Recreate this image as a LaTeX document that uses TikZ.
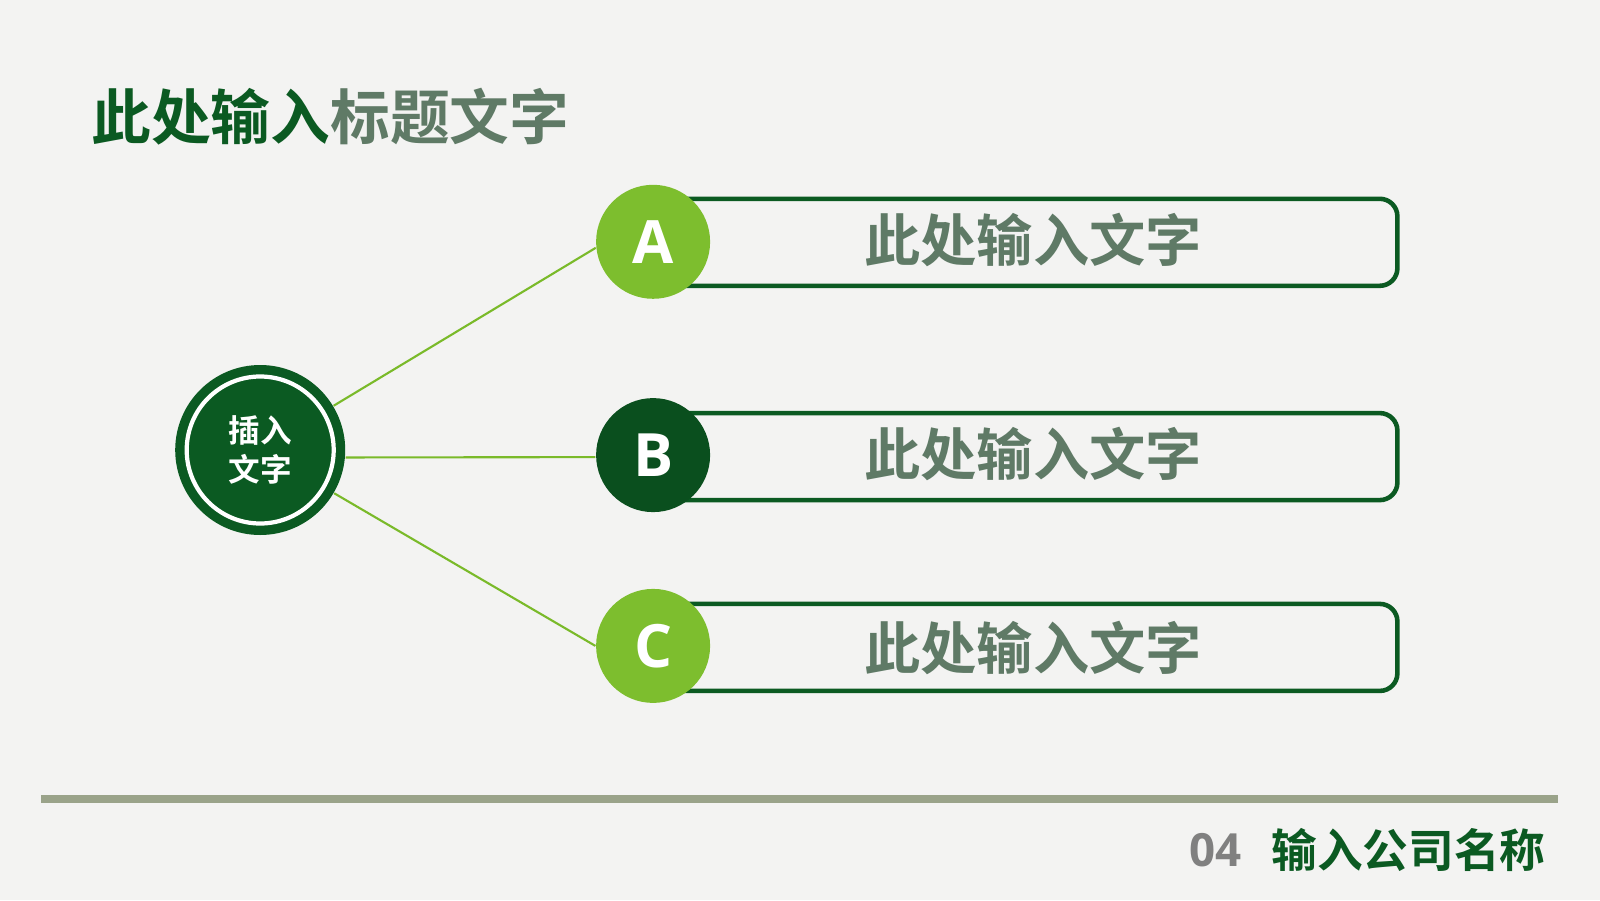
\documentclass[tikz,border=0pt]{standalone}
\usepackage{fontspec}
\setsansfont{Open Sans}
\newfontfamily\cjk{Noto Sans CJK SC}[BoldFont={Noto Sans CJK SC Bold}]
\usetikzlibrary{positioning}
\definecolor{darkgreen}{HTML}{0B5A22}
\definecolor{deepgreen}{HTML}{0A4F1E}
\definecolor{lightgreen}{HTML}{7DBE2E}
\definecolor{linegreen}{HTML}{7ABA2A}
\definecolor{textgray}{HTML}{5F7A66}
\definecolor{rulegray}{HTML}{9AA38A}
\definecolor{bggray}{HTML}{F3F3F2}
\tikzset{letter/.style={circle, minimum size=1.14cm, inner sep=0pt, text=white, font=\sffamily\bfseries\fontsize{17}{17}\selectfont}}
\tikzset{itembox/.style={draw=darkgreen, line width=1.3pt, rounded corners=5pt, fill=bggray, minimum width=7.42cm, minimum height=0.87cm, anchor=west}}
\tikzset{itemtext/.style={text=textgray, font=\cjk\bfseries\fontsize{16}{16}\selectfont}}
\tikzset{link/.style={linegreen, line width=0.6pt}}
\begin{document}
\begin{tikzpicture}
  \fill[bggray] (0,0) rectangle (16,9);
  \useasboundingbox (0,0) rectangle (16,9);

  \node[anchor=west, font=\cjk\bfseries\fontsize{17}{17}\selectfont] (title) at (0.79,7.83)
    {\textcolor{darkgreen}{此处输入}\textcolor{textgray}{标题文字}};

  \node[circle, fill=darkgreen, minimum size=1.7cm, inner sep=0pt] (ctr) at (2.602,4.5) {};
  \draw[white, line width=1.2pt] (ctr.center) circle (0.735);
  \node[text=white, align=center, font=\cjk\bfseries\fontsize{9}{11}\selectfont] (ctrtext) at (ctr) {插入\\文字};

  % boxes
  \node[itembox] (boxa) at (6.531,6.577) {};
  \node[itembox] (boxb) at (6.531,4.434) {};
  \node[itembox] (boxc) at (6.531,2.526) {};
  \node[itemtext] (ta) at (10.33,6.60) {此处输入文字};
  \node[itemtext] (tb) at (10.33,4.46) {此处输入文字};
  \node[itemtext] (tc) at (10.33,2.52) {此处输入文字};

  \node[letter, fill=lightgreen] (A) at (6.531,6.582) {A};
  \node[letter, fill=deepgreen] (B) at (6.531,4.449) {B};
  \node[letter, fill=lightgreen] (C) at (6.531,2.541) {C};

  \draw[link] (ctr) -- (A.-174);
  \draw[link] (ctr.-5) -- (B.-178);
  \draw[link] (ctr) -- (C.west);

  \coordinate (rl) at (0.41,1.01);
  \coordinate (rr) at (15.58,1.01);
  \draw[rulegray, line width=2.2pt] (rl) -- (rr);

  \node[anchor=east, text=darkgreen, font=\cjk\bfseries\fontsize{13}{13}\selectfont] (company) at (15.58,0.5) {输入公司名称};
  \node[left=0.05cm of company, text=gray, font=\sffamily\bfseries\fontsize{13}{13}\selectfont] (num) {04};
\end{tikzpicture}
\end{document}
